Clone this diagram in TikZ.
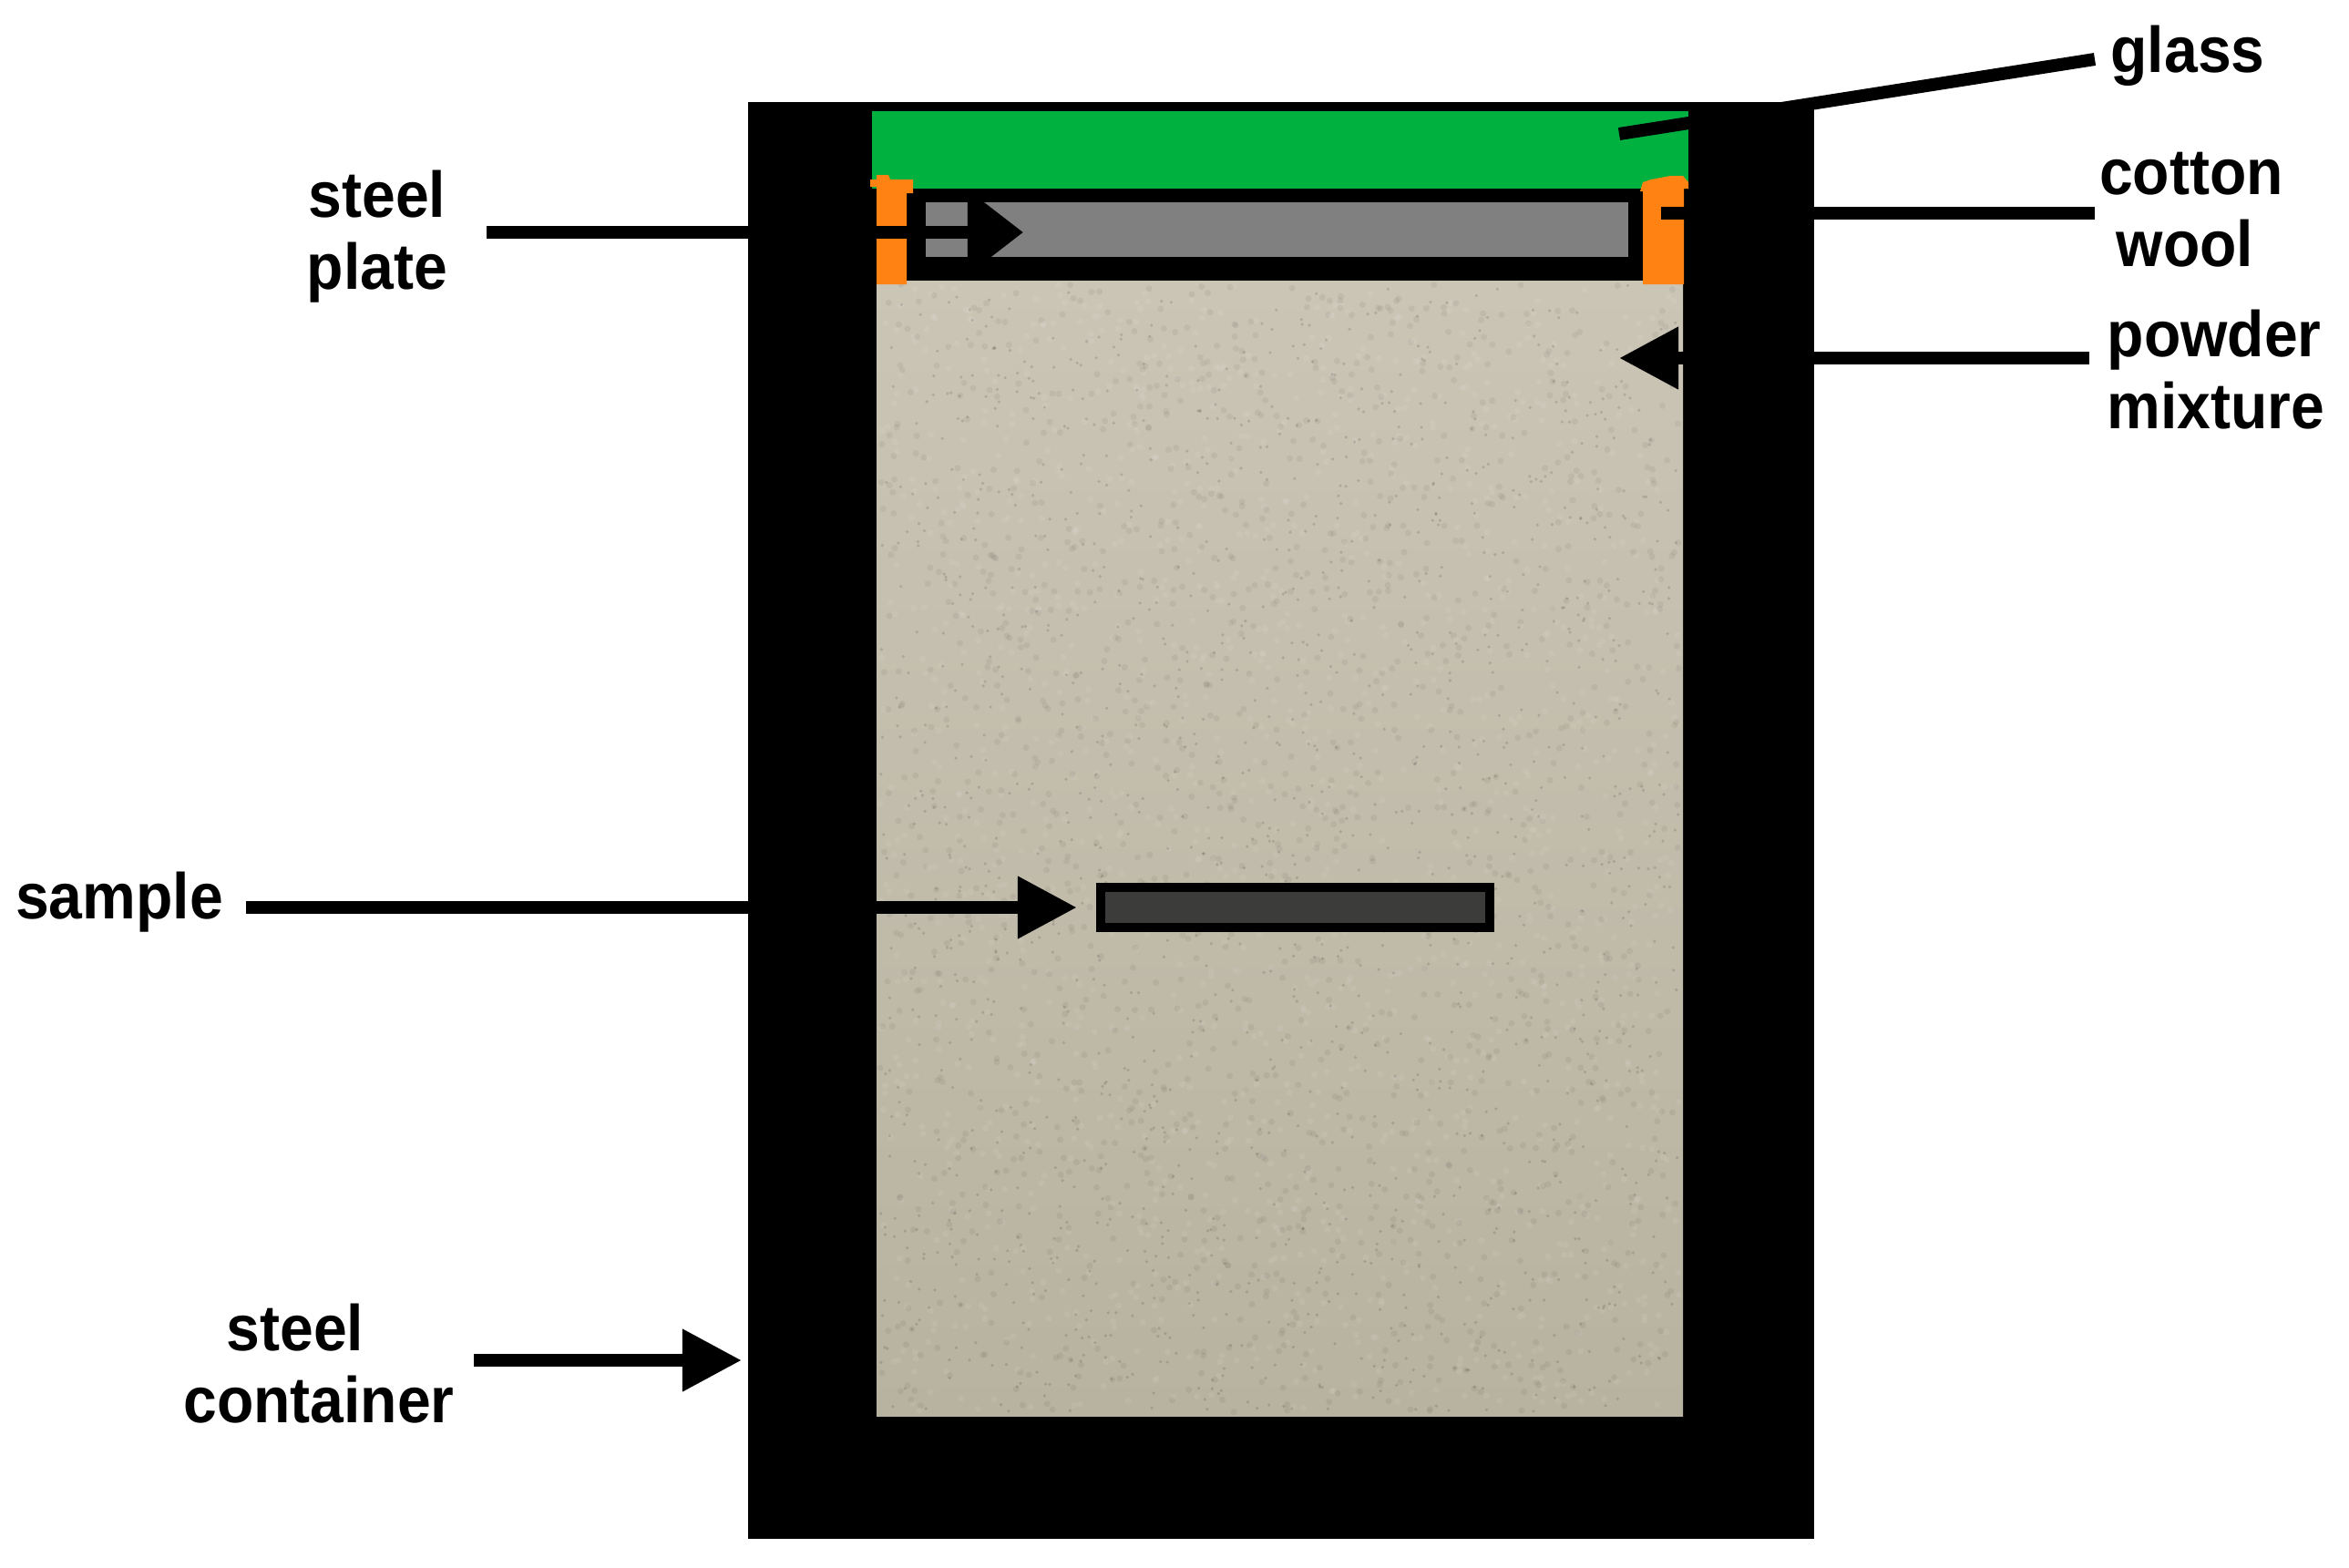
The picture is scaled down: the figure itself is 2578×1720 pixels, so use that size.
\documentclass[tikz,border=0pt]{standalone}
\usepackage{fontspec}
\usepackage{xcolor}
\usetikzlibrary{arrows.meta}

\newfontfamily\partfont[BoldFeatures = {FakeStretch = 0.93}]{Liberation Sans}

\definecolor{glassgreen}{HTML}{00B140}
\definecolor{woolorange}{HTML}{FF8212}
\definecolor{plategrey}{HTML}{808080}
\definecolor{samplegrey}{HTML}{3C3C3A}
\definecolor{powdertop}{HTML}{CBC5B6}
\definecolor{powderbottom}{HTML}{B8B2A0}

\tikzset{
  partlabel/.style = {anchor = north, align = center, inner sep = 0pt, font = \partfont\bfseries\fontsize{20.2}{22.5}\selectfont},
  pointer/.style = {line width = 0.14cm, -{Triangle[length = 0.65cm, width = 0.65cm]}},
  plain pointer/.style = {line width = 0.14cm}
}

\begin{document}
\begin{tikzpicture}[x = 0.01cm, y = -0.01cm]
      \useasboundingbox[fill = white] (0, 0) rectangle (2578, 1720);

      \node [fill = black, inner sep = 0pt, minimum width = 11.7cm, minimum height = 15.77cm] (container) at (1406, 900.5) {};

      % powder with speckle
      \fill[top color = powdertop, bottom color = powderbottom] (962, 308) rectangle (1847, 1554);
      \pgfmathsetseed{2718}
      \foreach \n in {1,...,1500} {\fill[black, opacity = 0.05] (966 + rnd*877, 312 + rnd*1238) circle (1pt);}
      \foreach \n in {1,...,1500} {\fill[white, opacity = 0.07] (966 + rnd*877, 312 + rnd*1238) circle (1pt);}
      \foreach \n in {1,...,1500} {\fill[black, opacity = 0.13] (966 + rnd*877, 312 + rnd*1238) circle (0.5pt);}

      \fill[glassgreen] (957, 122) rectangle (1853, 207);
      \fill[black] (995, 207) rectangle (1803, 307);
      \fill[plategrey] (1016, 222) rectangle (1787, 282);

      % cotton wool, both sides
      \fill[woolorange] (962, 312) -- (962, 205) -- (955, 205) -- (955, 197) -- (962, 197) -- (962, 192) -- (975, 192) -- (977, 197)
        -- (1002, 197) -- (1002, 212) -- (995, 212) -- (995, 312) -- cycle;
      \fill[woolorange] (1803, 312) -- (1803, 210) -- (1800, 210) -- (1803, 200) -- (1812, 197) -- (1833, 193) -- (1847, 193)
        -- (1853, 200) -- (1853, 207) -- (1848, 207) -- (1848, 312) -- cycle;

      \node [draw = black, fill = samplegrey, line width = 0.1cm, inner sep = 0pt, minimum width = 4.27cm, minimum height = 0.44cm] (samplebar) at (1421.5, 996) {};

      \node [partlabel] (glasslabel) at (2401, 23) {\strut glass};
      \node [partlabel] (woollabel) at (2405, 157) {\strut cotton\\\strut wool\hspace*{4pt}};
      \node [partlabel, align = left] (powderlabel) at (2432, 335) {\strut powder\\\strut mixture};
      \node [partlabel] (platelabel) at (414, 182) {\strut steel\\\strut plate};
      \node [partlabel] (samplelabel) at (131, 952) {\strut sample};
      \node [partlabel] (containerlabel) at (350, 1426) {\strut steel\hspace*{14.8pt}\\\strut container};

      \coordinate (glasstail) at (2299, 65);
      \coordinate (glasshead) at (1777, 147);
      \coordinate (wooltail) at (2299, 234);
      \coordinate (woolhead) at (1823, 234);
      \coordinate (powdertail) at (2293, 393);
      \coordinate (powderhead) at (1777, 393);
      \coordinate (platetail) at (534, 255);
      \coordinate (platehead) at (1123, 255);
      \coordinate (sampletail) at (270, 996);
      \coordinate (containertail) at (520, 1493);

      \draw[plain pointer] (glasstail) -- (glasshead);
      \draw[plain pointer] (wooltail) -- (woolhead);
      \draw[pointer] (powdertail) -- (powderhead);
      \draw[pointer, -{Triangle[length = 0.61cm, width = 0.9cm]}] (platetail) -- (platehead);
      \draw[pointer, shorten > = 0.21cm] (sampletail) -- (samplebar.west);
      \draw[pointer, shorten > = 0.06cm] (containertail) -- (containertail -| container.west);
    \end{tikzpicture}
\end{document}
